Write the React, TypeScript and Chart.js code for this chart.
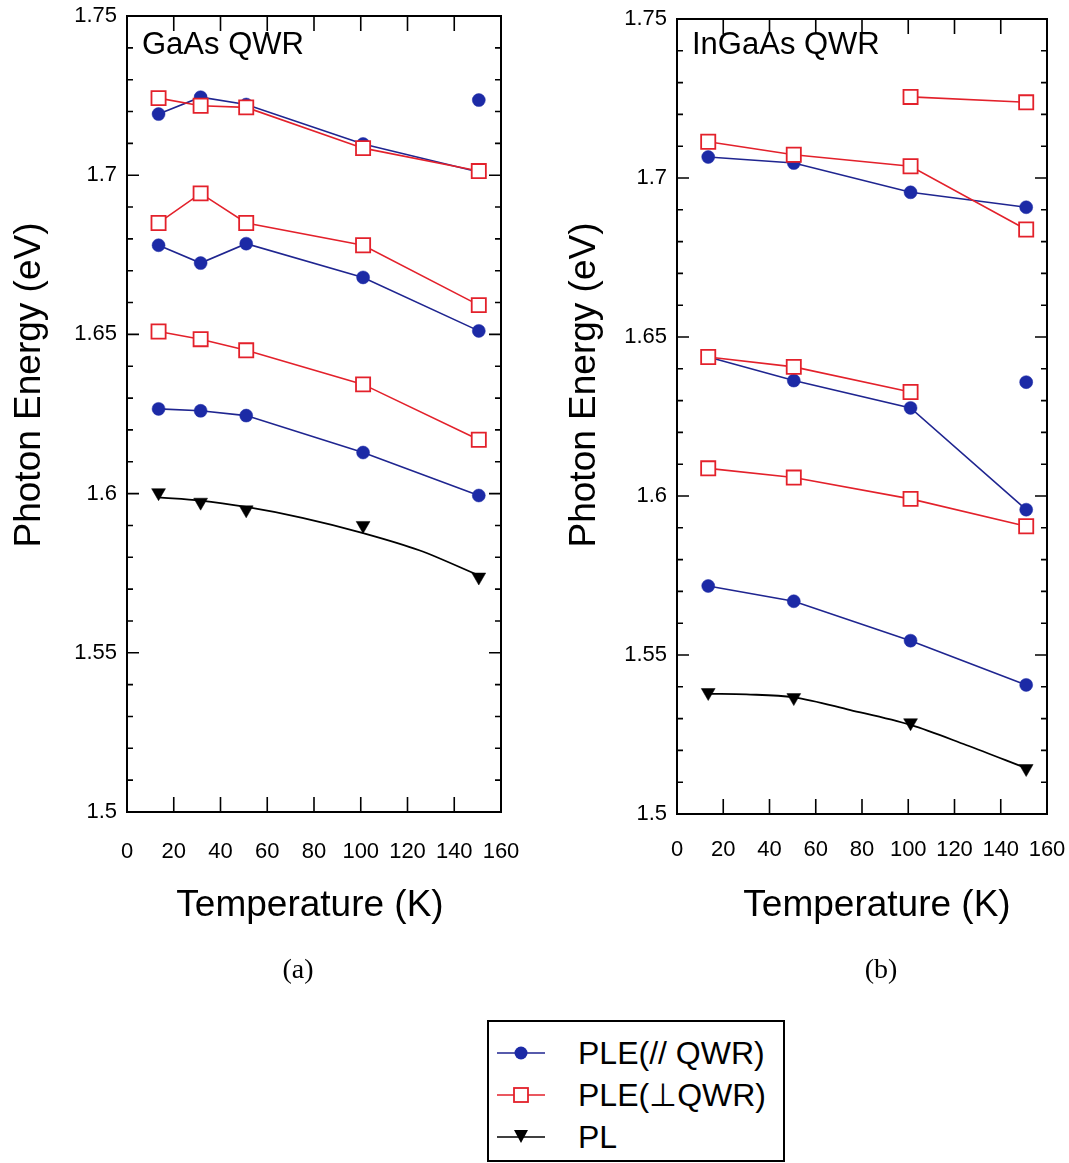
import { useEffect, useRef } from 'react';
import { Chart, registerables } from 'chart.js';

Chart.register(...registerables);

const SANS = "'Liberation Sans', Arial, Helvetica, sans-serif";
const SERIF = "'Liberation Serif', 'Times New Roman', serif";
const BLUE_LINE = '#1f2590';
const BLUE_DOT = '#1c2aa6';
const RED = '#e3212b';

// ---------- Panel (a): GaAs QWR ----------
const gaasT = [13.5, 31.5, 51, 101, 150.5];
const gaasPara1 = [1.7192, 1.7245, 1.7222, 1.7098, 1.701];
const gaasParaExtraT = [150.5];
const gaasParaExtra = [1.7236];
const gaasPerp1 = [1.7242, 1.7218, 1.7213, 1.7085, 1.7013];
const gaasPerp2 = [1.685, 1.6943, 1.685, 1.678, 1.6592];
const gaasPara2 = [1.678, 1.6724, 1.6785, 1.6679, 1.6511];
const gaasPerp3 = [1.6509, 1.6485, 1.645, 1.6343, 1.6169];
const gaasPara3 = [1.6266, 1.626, 1.6245, 1.6129, 1.5994];
const gaasPL = [1.6003, 1.5973, 1.5949, 1.59, 1.5738];
const gaasFitT = [13.5, 31.5, 51, 75, 101, 125, 150.5];
const gaasFit = [1.5988, 1.5978, 1.5958, 1.5924, 1.5876, 1.5822, 1.5743];

// ---------- Panel (b): InGaAs QWR ----------
const ingaasT = [13.5, 50.5, 101, 151];
const ingaasPerp1T = [101, 151];
const ingaasPerp1 = [1.7255, 1.7238];
const ingaasPerp2 = [1.7114, 1.7073, 1.7037, 1.6838];
const ingaasPara1 = [1.7066, 1.7047, 1.6955, 1.6908];
const ingaasPerp3T = [13.5, 50.5, 101];
const ingaasPerp3 = [1.6437, 1.6406, 1.6327];
const ingaasPara2 = [1.6437, 1.6363, 1.6277, 1.5957];
const ingaasParaExtraT = [151];
const ingaasParaExtra = [1.6358];
const ingaasPerp4 = [1.6087, 1.6058, 1.5991, 1.5905];
const ingaasPara3 = [1.5717, 1.5669, 1.5545, 1.5406];
const ingaasPL = [1.5382, 1.5366, 1.5287, 1.5143];
const ingaasFitT = [13.5, 30, 50.5, 75, 101, 125, 151];
const ingaasFit = [1.5378, 1.5376, 1.5367, 1.5327, 1.528, 1.5217, 1.5144];

// axes
const xMin = 0;
const xMax = 160;
const xStep = 20;
const yMin = 1.5;
const yMax = 1.75;
const yStep = 0.05;
const yMinorStep = 0.01;

const xTitle = 'Temperature (K)';
const yTitle = 'Photon Energy (eV)';
const legendLabels = ['PLE(// QWR)', 'PLE(\u22A5QWR)', 'PL'];

const pts = (xs: number[], ys: number[]) => xs.map((x, i) => ({ x, y: ys[i] }));

const paraDs = (xs: number[], ys: number[], showLine = true) => ({
  data: pts(xs, ys),
  showLine,
  borderColor: BLUE_LINE,
  backgroundColor: BLUE_DOT,
  pointBackgroundColor: BLUE_DOT,
  pointBorderColor: BLUE_DOT,
  pointStyle: 'circle',
  pointRadius: 6.5,
  pointBorderWidth: 0.5,
  borderWidth: 1.6,
  order: 1,
});

const perpDs = (xs: number[], ys: number[]) => ({
  data: pts(xs, ys),
  borderColor: RED,
  backgroundColor: '#fff',
  pointBackgroundColor: '#fff',
  pointBorderColor: RED,
  pointStyle: 'rect',
  pointRadius: 10,
  pointBorderWidth: 1.8,
  borderWidth: 1.6,
  order: 0,
});

const plDs = (xs: number[], ys: number[]) => ({
  data: pts(xs, ys),
  showLine: false,
  pointStyle: 'triangle',
  pointRotation: 180,
  pointRadius: 8,
  pointBackgroundColor: '#000',
  pointBorderColor: '#000',
  pointBorderWidth: 0.5,
  order: 2,
});

const fitDs = (xs: number[], ys: number[]) => ({
  data: pts(xs, ys),
  borderColor: '#000',
  borderWidth: 1.8,
  pointRadius: 0,
  cubicInterpolationMode: 'monotone',
  order: 3,
});

interface PanelCfg {
  datasets: any[];
  padTop: number;
  padRight: number;
  yAxisWidth: number;
  xAxisHeight: number;
  xPad: number;
  label: string;
  labelX: number;
  labelY: number;
  caption: string;
  captionX: number;
  xTitleX: number;
  yTitleX: number;
}

function makePlugin(cfg: PanelCfg) {
  return {
    id: 'frameAndText',
    afterDraw(chart: any) {
      const { ctx, chartArea, scales } = chart;
      const { left, right, top, bottom } = chartArea;
      const x = scales.x;
      const y = scales.y;
      ctx.save();
      ctx.strokeStyle = '#000';
      ctx.lineWidth = 2;
      ctx.strokeRect(left, top, right - left, bottom - top);
      ctx.lineWidth = 1.6;
      ctx.beginPath();
      x.ticks.forEach((t: any) => {
        if (t.value <= x.min || t.value >= x.max) return;
        const px = x.getPixelForValue(t.value);
        ctx.moveTo(px, bottom);
        ctx.lineTo(px, bottom - 15);
        ctx.moveTo(px, top);
        ctx.lineTo(px, top + 15);
      });
      const n = Math.round((y.max - y.min) / yMinorStep);
      for (let i = 1; i < n; i++) {
        const v = y.min + i * yMinorStep;
        const py = y.getPixelForValue(v);
        const len = i % 5 === 0 ? 12 : 6;
        ctx.moveTo(left, py);
        ctx.lineTo(left + len, py);
        ctx.moveTo(right, py);
        ctx.lineTo(right - len, py);
      }
      ctx.stroke();

      ctx.fillStyle = '#000';
      // panel label
      ctx.font = `31px ${SANS}`;
      ctx.textAlign = 'left';
      ctx.textBaseline = 'alphabetic';
      ctx.fillText(cfg.label, cfg.labelX, cfg.labelY);
      // axis titles
      ctx.font = `37px ${SANS}`;
      ctx.textAlign = 'center';
      ctx.textBaseline = 'middle';
      ctx.fillText(xTitle, cfg.xTitleX, 906);
      ctx.save();
      ctx.translate(cfg.yTitleX, 385);
      ctx.rotate(-Math.PI / 2);
      ctx.fillText(yTitle, 0, 0);
      ctx.restore();
      // caption
      ctx.font = `28px ${SERIF}`;
      ctx.fillText(cfg.caption, cfg.captionX, 971);
      ctx.restore();
    },
  };
}

function Panel({ cfg, left, width }: { cfg: PanelCfg; left: number; width: number }) {
  const ref = useRef<HTMLCanvasElement>(null);
  useEffect(() => {
    if (!ref.current) return;
    const chart = new Chart(ref.current, {
      type: 'line',
      data: { datasets: cfg.datasets },
      plugins: [makePlugin(cfg)],
      options: {
        animation: false,
        responsive: false,
        devicePixelRatio: 1,
        layout: { padding: { left: 0, top: cfg.padTop, right: cfg.padRight, bottom: 0 } },
        plugins: { legend: { display: false }, tooltip: { enabled: false } },
        scales: {
          x: {
            type: 'linear',
            min: xMin,
            max: xMax,
            grid: { display: false, drawTicks: true, tickLength: cfg.xPad },
            border: { display: false },
            ticks: {
              stepSize: xStep,
              padding: 0,
              color: '#000',
              maxRotation: 0,
              autoSkip: false,
              font: { family: SANS, size: 22 },
            },
            afterFit: (s: any) => {
              s.height = cfg.xAxisHeight;
            },
          },
          y: {
            type: 'linear',
            min: yMin,
            max: yMax,
            grid: { display: false, drawTicks: true, tickLength: 10 },
            border: { display: false },
            ticks: {
              stepSize: yStep,
              padding: 0,
              color: '#000',
              font: { family: SANS, size: 22 },
              callback: (v: any) => String(Math.round(Number(v) * 100) / 100),
            },
            afterFit: (s: any) => {
              s.width = cfg.yAxisWidth;
            },
          },
        },
      } as any,
    });
    return () => chart.destroy();
  }, []);
  return (
    <canvas
      ref={ref}
      width={width}
      height={1000}
      style={{ position: 'absolute', left, top: 0, width, height: 1000, display: 'block' }}
    />
  );
}

const cfgA: PanelCfg = {
  datasets: [
    perpDs(gaasT, gaasPerp1),
    perpDs(gaasT, gaasPerp2),
    perpDs(gaasT, gaasPerp3),
    paraDs(gaasT, gaasPara1),
    paraDs(gaasParaExtraT, gaasParaExtra, false),
    paraDs(gaasT, gaasPara2),
    paraDs(gaasT, gaasPara3),
    plDs(gaasT, gaasPL),
    fitDs(gaasFitT, gaasFit),
  ],
  padTop: 16,
  padRight: 29,
  yAxisWidth: 127,
  xAxisHeight: 188,
  xPad: 27,
  label: 'GaAs QWR',
  labelX: 142,
  labelY: 54,
  caption: '(a)',
  captionX: 298,
  xTitleX: 310,
  yTitleX: 30,
};

const cfgB: PanelCfg = {
  datasets: [
    perpDs(ingaasPerp1T, ingaasPerp1),
    perpDs(ingaasT, ingaasPerp2),
    perpDs(ingaasPerp3T, ingaasPerp3),
    perpDs(ingaasT, ingaasPerp4),
    paraDs(ingaasT, ingaasPara1),
    paraDs(ingaasT, ingaasPara2),
    paraDs(ingaasParaExtraT, ingaasParaExtra, false),
    paraDs(ingaasT, ingaasPara3),
    plDs(ingaasT, ingaasPL),
    fitDs(ingaasFitT, ingaasFit),
  ],
  padTop: 19,
  padRight: 22,
  yAxisWidth: 137,
  xAxisHeight: 186,
  xPad: 23,
  label: 'InGaAs QWR',
  labelX: 152,
  labelY: 54,
  caption: '(b)',
  captionX: 341,
  xTitleX: 337,
  yTitleX: 45,
};

function LegendSymbol({ kind }: { kind: number }) {
  return (
    <svg width={60} height={30} style={{ position: 'absolute', left: 6, top: -15 }}>
      <line x1={2} y1={15} x2={50} y2={15} stroke={kind === 0 ? BLUE_LINE : kind === 1 ? RED : '#000'} strokeWidth={1.6} />
      {kind === 0 && <circle cx={26} cy={15} r={6.5} fill={BLUE_DOT} />}
      {kind === 1 && <rect x={19} y={8} width={14} height={14} fill="#fff" stroke={RED} strokeWidth={1.8} />}
      {kind === 2 && <polygon points="19,8 33,8 26,21" fill="#000" />}
    </svg>
  );
}

export default function App() {
  const rowCenters = [31, 73, 115];
  return (
    <div style={{ position: 'absolute', left: 0, top: 0, width: 1069, height: 1163, background: '#fff', overflow: 'hidden' }}>
      <Panel cfg={cfgA} left={0} width={530} />
      <Panel cfg={cfgB} left={540} width={529} />
      <div
        style={{
          position: 'absolute',
          left: 487,
          top: 1020,
          width: 298,
          height: 142,
          border: '2px solid #000',
          boxSizing: 'border-box',
          background: '#fff',
          fontFamily: SANS,
          fontSize: 32,
          color: '#000',
        }}
      >
        {legendLabels.map((lab, i) => (
          <div key={i} style={{ position: 'absolute', left: 0, top: rowCenters[i], width: '100%', height: 0 }}>
            <LegendSymbol kind={i} />
            <span style={{ position: 'absolute', left: 89, top: -18, lineHeight: '36px', whiteSpace: 'nowrap' }}>{lab}</span>
          </div>
        ))}
      </div>
    </div>
  );
}
